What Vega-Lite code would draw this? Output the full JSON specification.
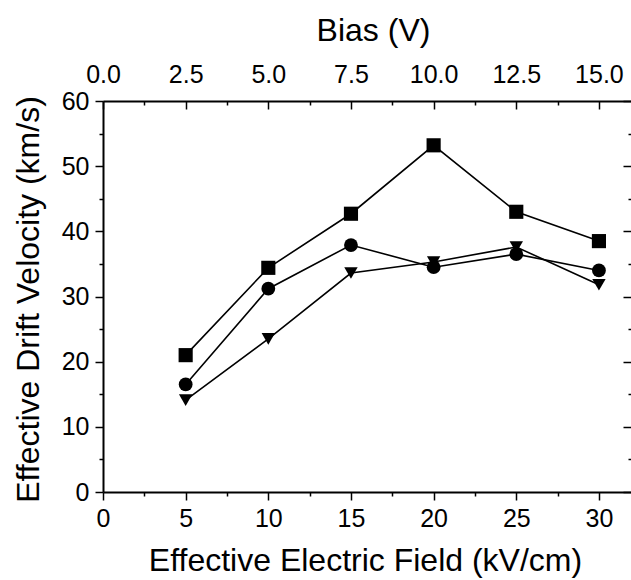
{
  "$schema": "https://vega.github.io/schema/vega-lite/v6.json",
  "autosize": "none",
  "width": 529,
  "height": 391,
  "padding": {"left": 103, "top": 101, "right": 0, "bottom": 88},
  "background": "white",
  "config": {
    "view": {"stroke": null},
    "font": "Liberation Sans",
    "axis": {
      "labelFont": "Liberation Sans",
      "titleFont": "Liberation Sans",
      "labelFontSize": 25,
      "titleFontSize": 32,
      "labelColor": "black",
      "titleColor": "black",
      "titleFontWeight": "normal",
      "domainColor": "black",
      "tickColor": "black",
      "domainWidth": 2,
      "tickWidth": 1.5,
      "grid": false
    }
  },
  "data": {
    "values": [
      {"field": 5, "v": 21.0, "s": "A"},
      {"field": 10, "v": 34.4, "s": "A"},
      {"field": 15, "v": 42.7, "s": "A"},
      {"field": 20, "v": 53.2, "s": "A"},
      {"field": 25, "v": 43.0, "s": "A"},
      {"field": 30, "v": 38.5, "s": "A"},
      {"field": 5, "v": 16.5, "s": "B"},
      {"field": 10, "v": 31.2, "s": "B"},
      {"field": 15, "v": 37.9, "s": "B"},
      {"field": 20, "v": 34.5, "s": "B"},
      {"field": 25, "v": 36.5, "s": "B"},
      {"field": 30, "v": 34.0, "s": "B"},
      {"field": 5, "v": 14.1, "s": "C"},
      {"field": 10, "v": 23.5, "s": "C"},
      {"field": 15, "v": 33.6, "s": "C"},
      {"field": 20, "v": 35.3, "s": "C"},
      {"field": 25, "v": 37.6, "s": "C"},
      {"field": 30, "v": 31.8, "s": "C"}
    ]
  },
  "resolve": {"axis": {"x": "independent", "y": "independent"}},
  "layer": [
    {
      "mark": {"type": "line", "color": "black", "strokeWidth": 1.6},
      "encoding": {
        "x": {
          "field": "field", "type": "quantitative",
          "scale": {"domain": [0, 32], "nice": false},
          "axis": {
            "orient": "bottom",
            "values": [0, 2.5, 5, 7.5, 10, 12.5, 15, 17.5, 20, 22.5, 25, 27.5, 30],
            "labelExpr": "datum.value % 5 === 0 ? datum.value : ''",
            "tickSize": {"condition": {"test": "datum.value % 5 === 0", "value": 8}, "value": 4},
            "labelPadding": 6,
            "labelFlush": false,
            "title": "Effective Electric Field (kV/cm)",
            "titleX": 262,
            "titleY": 78,
            "titleBaseline": "alphabetic",
            "titleAlign": "center"
          }
        },
        "y": {
          "field": "v", "type": "quantitative",
          "scale": {"domain": [0, 60], "nice": false},
          "axis": {
            "orient": "left",
            "values": [0, 5, 10, 15, 20, 25, 30, 35, 40, 45, 50, 55, 60],
            "labelExpr": "datum.value % 10 === 0 ? datum.value : ''",
            "tickSize": {"condition": {"test": "datum.value % 10 === 0", "value": 8}, "value": 4},
            "labelPadding": 6,
            "labelFlush": false,
            "title": "Effective Drift Velocity (km/s)",
            "titleX": -65,
            "titleY": 198,
            "titleAlign": "center",
            "titleBaseline": "alphabetic",
            "titleAngle": -90
          }
        },
        "detail": {"field": "s"}
      }
    },
    {
      "mark": {"type": "point", "filled": true, "color": "black", "opacity": 1},
      "encoding": {
        "x": {
          "field": "field", "type": "quantitative",
          "axis": {
            "orient": "top",
            "values": [0, 2.5, 5, 7.5, 10, 12.5, 15, 17.5, 20, 22.5, 25, 27.5, 30],
            "labelExpr": "datum.value % 5 === 0 ? format(datum.value / 2, '.1f') : ''",
            "tickSize": {"condition": {"test": "datum.value % 5 === 0", "value": -8}, "value": -4},
            "labelPadding": 22,
            "labelFlush": false,
            "title": "Bias (V)",
            "titleX": 270,
            "titleY": -71,
            "titleBaseline": "middle",
            "titleAlign": "center"
          }
        },
        "y": {
          "field": "v", "type": "quantitative",
          "axis": {
            "orient": "right",
            "values": [0, 5, 10, 15, 20, 25, 30, 35, 40, 45, 50, 55, 60],
            "labels": false,
            "tickSize": {"condition": {"test": "datum.value % 10 === 0", "value": -9}, "value": -4},
            "title": null
          }
        },
        "shape": {
          "field": "s", "type": "nominal",
          "scale": {"domain": ["A", "B", "C"], "range": ["square", "circle", "triangle-down"]},
          "legend": null
        },
        "size": {
          "field": "s", "type": "nominal",
          "scale": {"domain": ["A", "B", "C"], "range": [200, 180, 330]},
          "legend": null
        }
      }
    }
  ]
}
